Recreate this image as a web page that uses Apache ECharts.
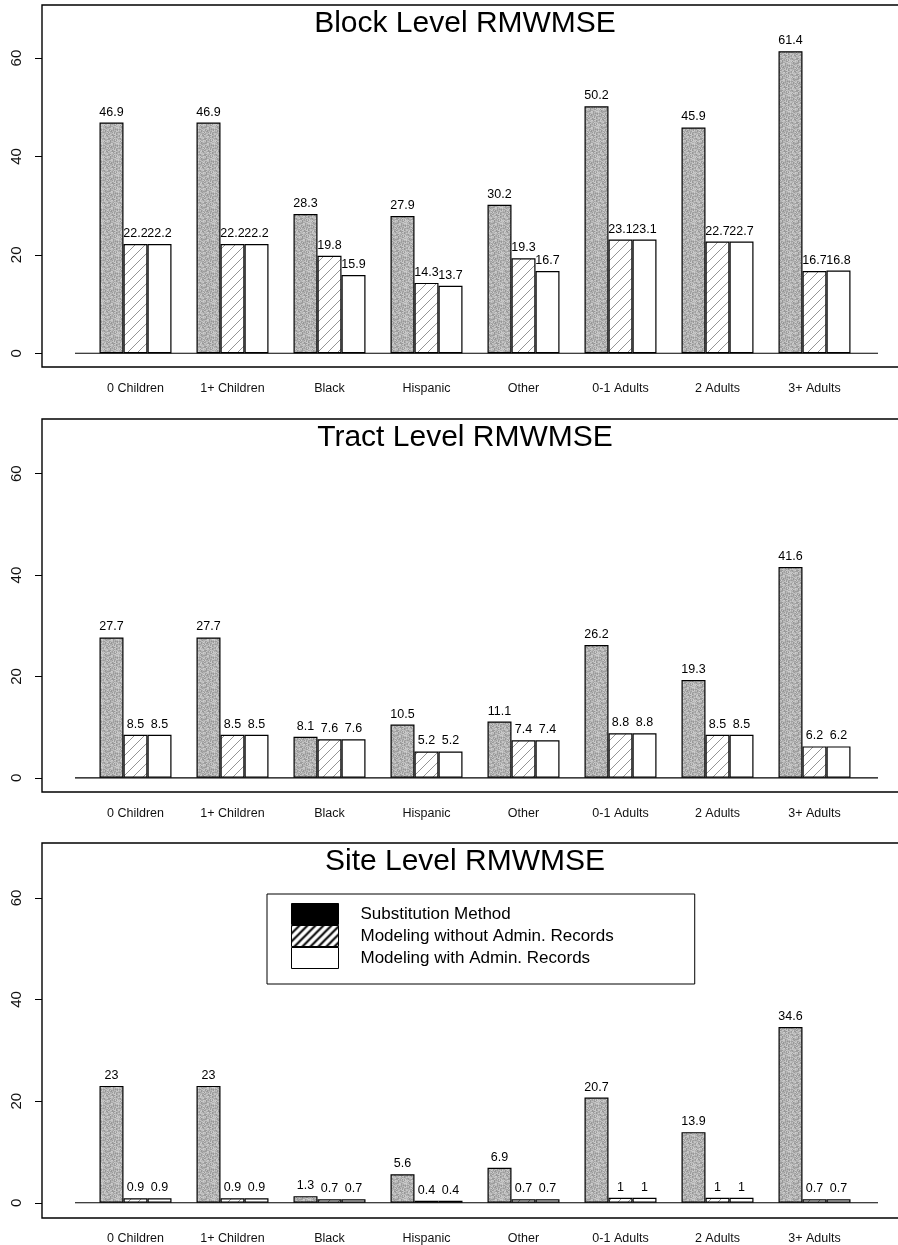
<!DOCTYPE html>
<html>
<head>
<meta charset="utf-8">
<script src="https://cdn.jsdelivr.net/npm/echarts@6/dist/echarts.min.js"></script>
<style>
html,body{margin:0;padding:0;background:#fff;}
#chart{width:898px;height:1245px;}
</style>
</head>
<body>
<div id="chart"></div>
<script>
// ---- data ----
var categories = ['0 Children', '1+ Children', 'Black', 'Hispanic', 'Other', '0-1 Adults', '2 Adults', '3+ Adults'];
var seriesNames = ['Substitution Method', 'Modeling without Admin. Records', 'Modeling with Admin. Records'];
var panelTitles = ['Block Level RMWMSE', 'Tract Level RMWMSE', 'Site Level RMWMSE'];
var yTicks = [0, 20, 40, 60];

var blockSubstitution = [46.9, 46.9, 28.3, 27.9, 30.2, 50.2, 45.9, 61.4];
var blockNoAdmin      = [22.2, 22.2, 19.8, 14.3, 19.3, 23.1, 22.7, 16.7];
var blockAdmin        = [22.2, 22.2, 15.9, 13.7, 16.7, 23.1, 22.7, 16.8];

var tractSubstitution = [27.7, 27.7, 8.1, 10.5, 11.1, 26.2, 19.3, 41.6];
var tractNoAdmin      = [8.5, 8.5, 7.6, 5.2, 7.4, 8.8, 8.5, 6.2];
var tractAdmin        = [8.5, 8.5, 7.6, 5.2, 7.4, 8.8, 8.5, 6.2];

var siteSubstitution  = [23, 23, 1.3, 5.6, 6.9, 20.7, 13.9, 34.6];
var siteNoAdmin       = [0.9, 0.9, 0.7, 0.4, 0.7, 1, 1, 0.7];
var siteAdmin         = [0.9, 0.9, 0.7, 0.4, 0.7, 1, 1, 0.7];

var panelData = [
  [blockSubstitution, blockNoAdmin, blockAdmin],
  [tractSubstitution, tractNoAdmin, tractAdmin],
  [siteSubstitution, siteNoAdmin, siteAdmin]
];

// ---- styles / layout ----
var FONT = '"Liberation Sans", Arial, Helvetica, sans-serif';
var boxes = [ {top: 5, height: 362}, {top: 419, height: 373}, {top: 843, height: 375} ];
var BOX_LEFT = 42;
var PLOT_LEFT = 87, PLOT_WIDTH = 776;
var Y_MIN = -2.8, Y_MAX = 70.8;

// fine speckled grey texture (a fixed, deterministic dither tile)
function makeStipple() {
  var n = 16;
  var c = document.createElement('canvas'); c.width = n; c.height = n;
  var g = c.getContext('2d');
  var seed = 12345;
  for (var y = 0; y < n; y++) for (var x = 0; x < n; x++) {
    seed = (seed * 1103515245 + 12345) & 0x7fffffff;
    var v = 150 + (seed % 60);
    g.fillStyle = 'rgb(' + v + ',' + v + ',' + v + ')';
    g.fillRect(x, y, 1, 1);
  }
  return c;
}
function makeHatch(size, color, lw) {
  var c = document.createElement('canvas'); c.width = size; c.height = size;
  var g = c.getContext('2d');
  g.fillStyle = '#fff'; g.fillRect(0, 0, size, size);
  g.strokeStyle = color; g.lineWidth = lw;
  g.beginPath();
  g.moveTo(-1, size + 1); g.lineTo(size + 1, -1);
  g.moveTo(-size / 2 - 1, size / 2 + 1); g.lineTo(size / 2 + 1, -size / 2 - 1);
  g.moveTo(size / 2 - 1, size * 1.5 + 1); g.lineTo(size * 1.5 + 1, size / 2 - 1);
  g.stroke();
  return c;
}
var stipple = {image: makeStipple(), repeat: 'repeat'};
var hatchBar = {image: makeHatch(10, '#7a7a7a', 0.8), repeat: 'repeat'};
var hatchLegend = {image: makeHatch(8, '#000', 2), repeat: 'repeat'};
var fills = [stipple, hatchBar, '#ffffff'];

var grids = [], xAxes = [], yAxes = [], series = [], titles = [];
boxes.forEach(function (b, p) {
  grids.push({left: PLOT_LEFT, width: PLOT_WIDTH, top: b.top, height: b.height, containLabel: false});
  xAxes.push({
    type: 'category', gridIndex: p, data: categories, position: 'bottom',
    axisLine: {show: false, onZero: false}, axisTick: {show: false},
    axisLabel: {color: '#111', fontFamily: FONT, fontSize: 12.5, margin: 15, interval: 0}
  });
  yAxes.push({
    type: 'value', gridIndex: p, min: Y_MIN, max: Y_MAX, offset: PLOT_LEFT - BOX_LEFT,
    axisLine: {show: false}, splitLine: {show: false},
    axisTick: {show: true, length: 7, inside: false, customValues: yTicks, lineStyle: {color: '#000', width: 1}},
    axisLabel: {show: true, customValues: yTicks, rotate: 90, margin: 18, color: '#111', fontFamily: FONT, fontSize: 15}
  });
  titles.push({
    text: panelTitles[p], left: 465, top: b.top + 4, textAlign: 'center', padding: 0,
    textStyle: {fontFamily: FONT, fontSize: 30, fontWeight: 'normal', color: '#000'}
  });
  panelData[p].forEach(function (vals, s) {
    series.push({
      type: 'bar', name: seriesNames[s], xAxisIndex: p, yAxisIndex: p, data: vals,
      barWidth: 24, barGap: '0%',
      itemStyle: {color: fills[s], borderColor: '#000', borderWidth: 1.2},
      label: {show: true, position: 'top', distance: 4, color: '#000', fontFamily: FONT, fontSize: 12.5,
              formatter: function (d) { return String(d.value); }},
      emphasis: {disabled: true},
      animation: false
    });
  });
});

var chart = echarts.init(document.getElementById('chart'), null, {renderer: 'canvas'});
chart.setOption({
  backgroundColor: '#fff',
  animation: false,
  title: titles,
  grid: grids,
  xAxis: xAxes,
  yAxis: yAxes,
  legend: {
    orient: 'vertical', left: 267, top: 894,
    padding: [9, 81, 15, 24], itemGap: 0, itemWidth: 47, itemHeight: 21,
    borderColor: '#000', borderWidth: 1, backgroundColor: '#fff',
    selectedMode: false,
    textStyle: {fontFamily: FONT, fontSize: 17, color: '#000', padding: [0, 0, 0, 17]},
    data: [
      {name: seriesNames[0], icon: 'rect', itemStyle: {color: '#000', borderColor: '#000', borderWidth: 1}},
      {name: seriesNames[1], icon: 'rect', itemStyle: {color: hatchLegend, borderColor: '#000', borderWidth: 1}},
      {name: seriesNames[2], icon: 'rect', itemStyle: {color: '#fff', borderColor: '#000', borderWidth: 1}}
    ]
  },
  series: series
});

// frames and zero baselines (positions from the axes' own scales)
var graphics = [];
boxes.forEach(function (b, p) {
  graphics.push({type: 'rect', z: 0, silent: true,
    shape: {x: BOX_LEFT, y: b.top, width: 900, height: b.height},
    style: {fill: null, stroke: '#000', lineWidth: 1.4}});
  var y0 = chart.convertToPixel({yAxisIndex: p}, 0);
  graphics.push({type: 'line', z: 0, silent: true,
    shape: {x1: 75, y1: y0, x2: 878, y2: y0},
    style: {stroke: '#000', lineWidth: 1.2}});
});
chart.setOption({graphic: graphics});
</script>
</body>
</html>
